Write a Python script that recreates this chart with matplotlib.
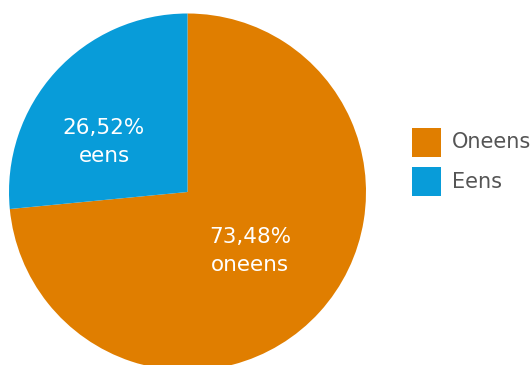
import matplotlib.pyplot as plt
from matplotlib.patches import Rectangle

labels = ["Oneens", "Eens"]
values = [73.48, 26.52]
wedge_text = ["oneens", "eens"]
colors = ["#E07E00", "#089CD9"]

W, H = 532, 365

def py(y):
    # pixel row (top = 0) to data y
    return H - y

fig = plt.figure(figsize=(W / 100, H / 100), dpi=100)
ax = fig.add_axes([0, 0, 1, 1])
ax.set_xlim(0, W)
ax.set_ylim(0, H)
ax.set_aspect("equal")
ax.axis("off")

wedges, _ = ax.pie(values, colors=colors, startangle=90, counterclock=False,
                   center=(187.5, py(192)), radius=178.5,
                   wedgeprops=dict(linewidth=0))
ax.set_xlim(0, W)
ax.set_ylim(0, H)

# labels inside the slices
pos = [(250, 251), (104, 142)]
for (x, y), v, t in zip(pos, values, wedge_text):
    s = f"{v:.2f}".replace(".", ",") + "%\n" + t
    ax.text(x, py(y), s, color="white", fontsize=15.5, ha="center", va="center",
            linespacing=1.55)

# legend
for i, (lab, c) in enumerate(zip(labels, colors)):
    y0 = 128 + i * 39
    ax.add_patch(Rectangle((412, py(y0 + 29)), 29, 29, color=c, lw=0))
    ax.text(452, py(y0 + 14.5), lab, color="#555555", fontsize=15,
            ha="left", va="center")

fig.savefig("out.png", dpi=100)
